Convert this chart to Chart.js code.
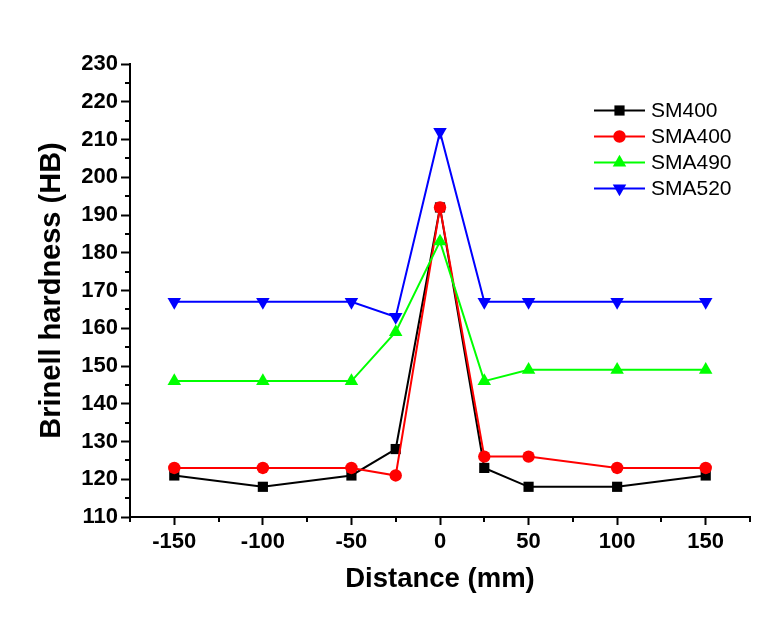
<!DOCTYPE html>
<html>
<head>
<meta charset="utf-8">
<script src="https://cdn.jsdelivr.net/npm/chart.js@4/dist/chart.umd.min.js"></script>
<style>
  html, body { margin: 0; padding: 0; background: #fff; }
  #wrap { width: 771px; height: 635px; }
</style>
</head>
<body>
<div id="wrap"><canvas id="c" width="771" height="635"></canvas></div>
<script>
const distances = [-150, -100, -50, -25, 0, 25, 50, 100, 150];
const sm400  = [121, 118, 121, 128, 192, 123, 118, 118, 121];
const sma400 = [123, 123, 123, 121, 192, 126, 126, 123, 123];
const sma490 = [146, 146, 146, 159, 183, 146, 149, 149, 149];
const sma520 = [167, 167, 167, 163, 212, 167, 167, 167, 167];
const seriesNames = ['SM400', 'SMA400', 'SMA490', 'SMA520'];
const xTickLabels = [-150, -100, -50, 0, 50, 100, 150];
const yTickLabels = [110, 120, 130, 140, 150, 160, 170, 180, 190, 200, 210, 220, 230];

const FONT = '"Liberation Sans", Arial, Helvetica, sans-serif';

function pts(vals) { return distances.map((d, i) => ({ x: d, y: vals[i] })); }

const styles = [
  { color: '#000000', pointStyle: 'rect', radius: 7.2, rotation: 0 },
  { color: '#ff0000', pointStyle: 'circle', radius: 6.2, rotation: 0 },
  { color: '#00ff00', pointStyle: 'triangle', radius: 7.8, rotation: 0 },
  { color: '#0000ff', pointStyle: 'triangle', radius: 7.8, rotation: 180 }
];
const allSeries = [sm400, sma400, sma490, sma520];

const datasets = allSeries.map((vals, i) => ({
  label: seriesNames[i],
  data: pts(vals),
  borderColor: styles[i].color,
  backgroundColor: styles[i].color,
  pointBackgroundColor: styles[i].color,
  pointBorderColor: styles[i].color,
  pointBorderWidth: 0,
  borderWidth: 2,
  pointStyle: styles[i].pointStyle,
  pointRadius: styles[i].radius,
  pointRotation: styles[i].rotation,
  pointHoverRadius: styles[i].radius,
  tension: 0,
  order: 10 - i
}));

function drawMarker(ctx, style, x, y) {
  const r = style.radius;
  ctx.save();
  ctx.fillStyle = style.color;
  ctx.beginPath();
  if (style.pointStyle === 'rect') {
    const s = Math.SQRT1_2 * r;
    ctx.rect(x - s, y - s, 2 * s, 2 * s);
  } else if (style.pointStyle === 'circle') {
    ctx.arc(x, y, r, 0, Math.PI * 2);
  } else {
    const rot = style.rotation * Math.PI / 180;
    for (let k = 0; k < 3; k++) {
      const a = rot - Math.PI / 2 + k * 2 * Math.PI / 3;
      const px = x + Math.cos(a) * r;
      const py = y + Math.sin(a) * r;
      if (k === 0) ctx.moveTo(px, py); else ctx.lineTo(px, py);
    }
    ctx.closePath();
  }
  ctx.fill();
  ctx.restore();
}

const extras = {
  id: 'extras',
  afterDraw(chart) {
    const ctx = chart.ctx;
    const xs = chart.scales.x, ys = chart.scales.y;
    ctx.save();
    ctx.strokeStyle = '#000';
    ctx.lineWidth = 2;
    for (let v = xs.min; v <= xs.max; v += 25) {
      if (v % 50 === 0 && v >= -150 && v <= 150) continue;
      const px = Math.round(xs.getPixelForValue(v));
      ctx.beginPath(); ctx.moveTo(px, chart.chartArea.bottom); ctx.lineTo(px, chart.chartArea.bottom + 5); ctx.stroke();
    }
    for (let v = ys.min; v <= ys.max; v += 5) {
      if (v % 10 === 0) continue;
      const py = Math.round(ys.getPixelForValue(v));
      ctx.beginPath(); ctx.moveTo(chart.chartArea.left, py); ctx.lineTo(chart.chartArea.left - 5, py); ctx.stroke();
    }
    const lx0 = 594, lx1 = 645, ly0 = 110.5, dy = 26;
    chart.data.datasets.forEach((ds, i) => {
      const y = ly0 + i * dy;
      ctx.strokeStyle = styles[i].color;
      ctx.lineWidth = 2;
      ctx.beginPath(); ctx.moveTo(lx0, y); ctx.lineTo(lx1, y); ctx.stroke();
      drawMarker(ctx, styles[i], (lx0 + lx1) / 2, y);
      ctx.fillStyle = '#000';
      ctx.font = '21px ' + FONT;
      ctx.textBaseline = 'middle';
      ctx.textAlign = 'left';
      ctx.fillText(ds.label, 651, y + 1);
    });
    ctx.restore();
  }
};

new Chart(document.getElementById('c'), {
  type: 'line',
  data: { datasets },
  plugins: [extras],
  options: {
    responsive: false,
    animation: false,
    devicePixelRatio: 1,
    layout: { padding: { top: 64, right: 21, left: 0, bottom: 0 } },
    plugins: { legend: { display: false }, tooltip: { enabled: false } },
    scales: {
      x: {
        type: 'linear',
        min: -175, max: 175,
        afterFit(s) { s.height = 118; },
        afterBuildTicks(s) { s.ticks = xTickLabels.map(v => ({ value: v })); },
        grid: { drawOnChartArea: false, drawTicks: true, tickLength: 8, tickWidth: 2, tickColor: '#000' },
        border: { display: true, color: '#000', width: 2 },
        ticks: {
          color: '#000', padding: 4, maxRotation: 0, autoSkip: false,
          font: { family: FONT, size: 22, weight: 'bold' },
          callback: v => String(v)
        },
        title: {
          display: true, text: 'Distance (mm)', color: '#000',
          font: { family: FONT, size: 27.5, weight: 'bold' },
          padding: { top: 0, bottom: 39 }
        }
      },
      y: {
        type: 'linear',
        min: 110, max: 230,
        afterFit(s) { s.width = 130; },
        afterBuildTicks(s) { s.ticks = yTickLabels.map(v => ({ value: v })); },
        grid: { drawOnChartArea: false, drawTicks: true, tickLength: 9, tickWidth: 2, tickColor: '#000' },
        border: { display: true, color: '#000', width: 2 },
        ticks: {
          color: '#000', padding: 3, autoSkip: false,
          font: { family: FONT, size: 22, weight: 'bold' },
          callback: v => String(v)
        },
        title: {
          display: true, text: 'Brinell hardness (HB)', color: '#000',
          font: { family: FONT, size: 29, weight: 'bold' },
          padding: { top: 35, bottom: 0 }
        }
      }
    }
  }
});
</script>
</body>
</html>
